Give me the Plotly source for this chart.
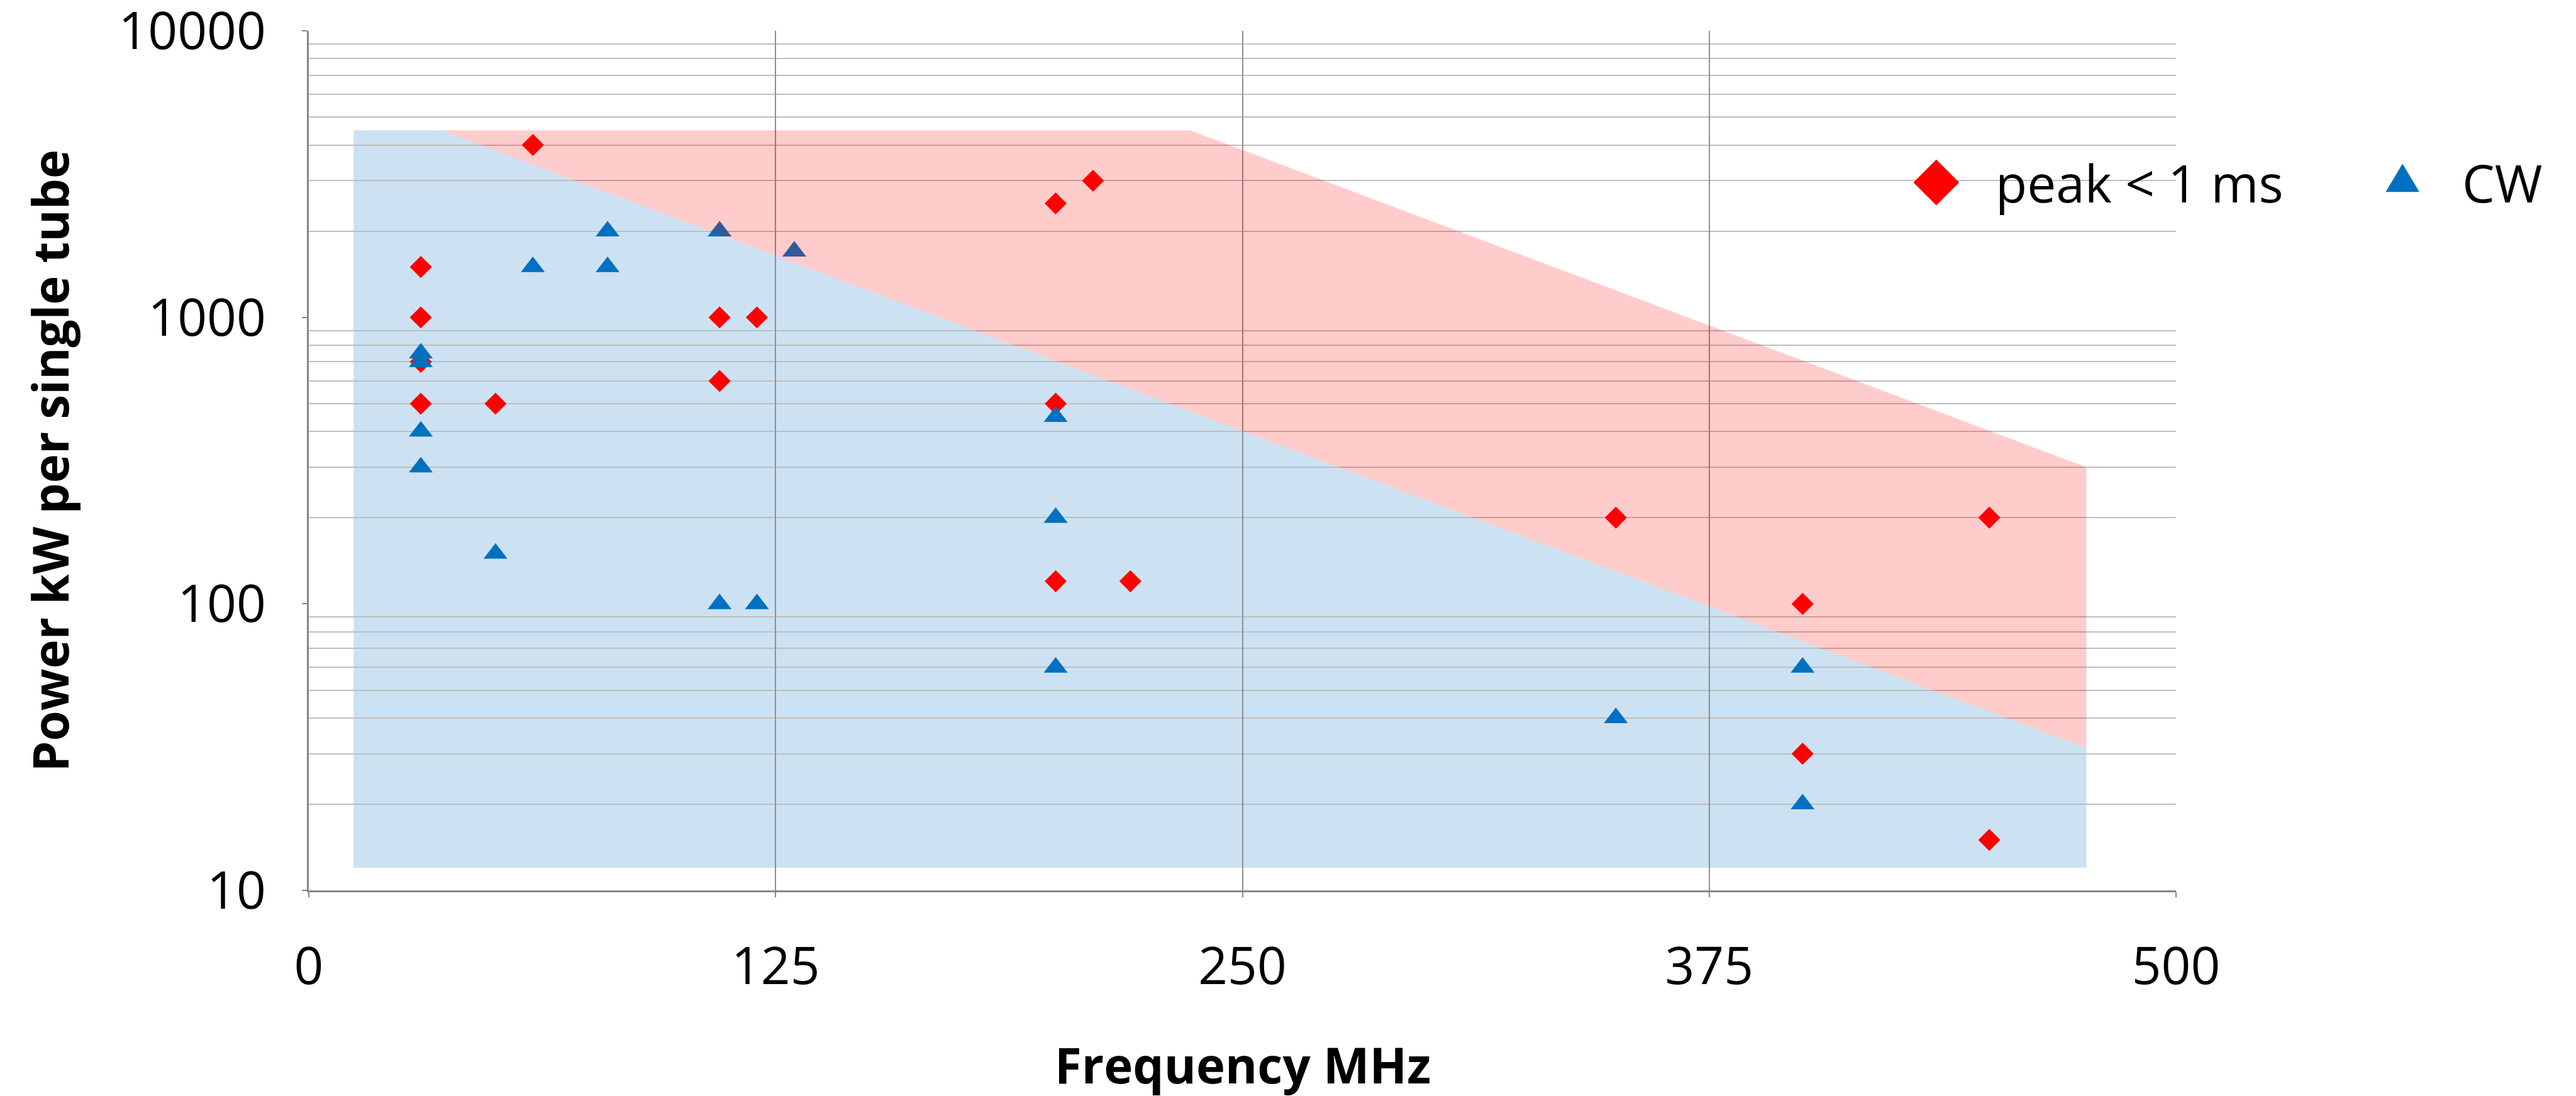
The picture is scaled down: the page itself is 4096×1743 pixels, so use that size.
import plotly.graph_objects as go

W, H = 4096, 1743

# ---------------- data ----------------
peak_freq = [30, 30, 30, 30, 50, 60, 110, 120, 110, 200, 210, 200, 200, 220, 350, 400, 400, 450, 450]
peak_power = [1500, 1000, 700, 500, 500, 4000, 1000, 1000, 600, 2500, 3000, 500, 120, 120, 200, 100, 30, 200, 15]

cw_freq = [30, 30, 30, 30, 50, 60, 80, 80, 110, 130, 110, 120, 200, 200, 200, 350, 400, 400]
cw_power = [750, 700, 400, 300, 150, 1500, 2000, 1500, 2000, 1700, 100, 100, 450, 200, 60, 40, 60, 20]

# shaded regions (polygon corners, MHz / kW)
cw_band_freq = [12, 12, 35.5, 476, 476]
cw_band_power = [12, 4500, 4500, 31.4, 12]
peak_band_freq = [35.5, 236, 476, 476, 35.5]
peak_band_power = [4500, 4500, 300, 31.4, 4500]

x_ticks = [0, 125, 250, 375, 500]
y_ticks = [10, 100, 1000, 10000]
y_ticktext = ["10", "100", "1000", "10000"]
y_minor = [20, 30, 40, 50, 60, 70, 80, 90,
           200, 300, 400, 500, 600, 700, 800, 900,
           2000, 3000, 4000, 5000, 6000, 7000, 8000, 9000]

series_names = ["peak &lt; 1 ms", "CW"]
x_title = "Frequency MHz"
y_title = "Power kW per single tube"

RED = "#FF0000"
BLUE = "#0070C0"
FONT = "Open Sans"

fig = go.Figure()

# CW region: drawn under the gridlines
cw_path = "M " + " L ".join(f"{x},{y}" for x, y in zip(cw_band_freq, cw_band_power)) + " Z"
fig.add_shape(type="path", path=cw_path, xref="x", yref="y", layer="below",
              fillcolor="#CCE2F2", line=dict(width=0))

fig.add_trace(go.Scatter(x=peak_freq, y=peak_power, mode="markers", name="peak < 1 ms",
                         marker=dict(symbol="diamond", size=27, color=RED, line=dict(width=0)),
                         showlegend=False, cliponaxis=False))
fig.add_trace(go.Scatter(x=cw_freq, y=cw_power, mode="markers", name="CW",
                         marker=dict(symbol="triangle-up", size=33, color=BLUE, line=dict(width=0)),
                         showlegend=False, cliponaxis=False))

# peak region: translucent, above the markers
fig.add_trace(go.Scatter(x=peak_band_freq, y=peak_band_power, mode="none", fill="toself",
                         fillcolor="rgba(255,0,0,0.2)", showlegend=False, hoverinfo="skip"))

# legend keys (pixel-sized shapes anchored in paper coordinates)
fig.add_shape(type="path", xref="paper", yref="paper", xsizemode="pixel", ysizemode="pixel",
              xanchor=0.8716, yanchor=0.8236, path="M 0,36.4 L 36.4,0 L 0,-36.4 L -36.4,0 Z",
              fillcolor=RED, line=dict(width=0), layer="above")
fig.add_shape(type="path", xref="paper", yref="paper", xsizemode="pixel", ysizemode="pixel",
              xanchor=1.1213, yanchor=0.8235, path="M -26.8,-15 L 26.8,-15 L 0,30 Z",
              fillcolor=BLUE, line=dict(width=0), layer="above")

axis_col = "#868686"

fig.update_layout(
    width=W, height=H,
    margin=dict(l=491, r=636, t=49, b=327, pad=0, autoexpand=False),
    paper_bgcolor="white", plot_bgcolor="white",
    font=dict(family=FONT, color="black", size=82),
    showlegend=False,
    xaxis=dict(range=[0, 500], tickmode="array", tickvals=x_ticks,
               showgrid=True, gridcolor="#8F8F8F", gridwidth=2,
               showline=True, linecolor=axis_col, linewidth=2.5,
               ticks="outside", ticklen=8, tickwidth=2, tickcolor=axis_col,
               tickfont=dict(family=FONT, size=82, color="black"),
               ticklabelstandoff=40, ticklabeloverflow="allow", zeroline=False,
               automargin=False),
    yaxis=dict(type="log", range=[1, 4.0005], tickmode="array", tickvals=y_ticks, ticktext=y_ticktext,
               showgrid=False,
               minor=dict(tickmode="array", tickvals=y_minor, showgrid=True,
                          gridcolor="#BEBEBE", gridwidth=2, ticks=""),
               showline=True, linecolor=axis_col, linewidth=2.5,
               ticks="outside", ticklen=8, tickwidth=2, tickcolor=axis_col,
               tickfont=dict(family=FONT, size=82, color="black"),
               ticklabelstandoff=41, ticklabeloverflow="allow", zeroline=False,
               automargin=False),
    annotations=[
        dict(text=series_names[0], x=0.9025, y=0.8237, xref="paper", yref="paper",
             xanchor="left", yanchor="middle", showarrow=False,
             font=dict(family=FONT, size=82, color="black")),
        dict(text=series_names[1], x=1.1527, y=0.8237, xref="paper", yref="paper",
             xanchor="left", yanchor="middle", showarrow=False,
             font=dict(family=FONT, size=82, color="black")),
        dict(text="<b>" + x_title + "</b>", x=0.5, y=-0.2029, xref="paper", yref="paper",
             xanchor="center", yanchor="middle", showarrow=False,
             font=dict(family=FONT, size=78, color="black")),
        dict(text="<b>" + y_title + "</b>", x=-0.1388, y=0.5, xref="paper", yref="paper",
             xanchor="center", yanchor="middle", showarrow=False, textangle=-90,
             font=dict(family=FONT, size=78, color="black")),
    ],
)

fig.write_html("out.html")
